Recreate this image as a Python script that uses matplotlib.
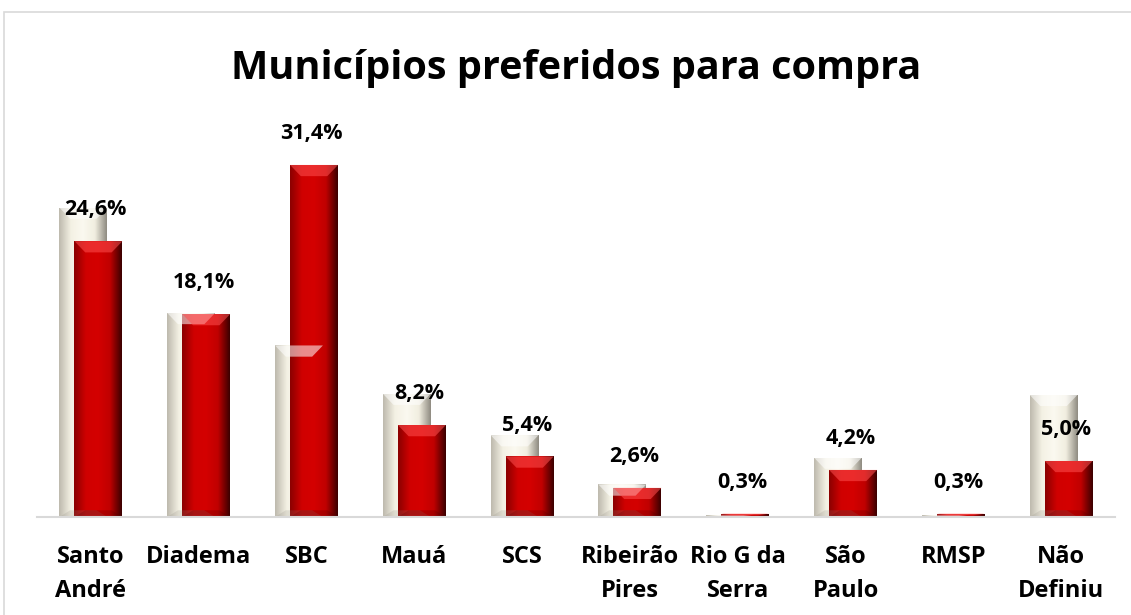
import matplotlib
matplotlib.use("Agg")
import matplotlib.pyplot as plt
import numpy as np
from matplotlib.patches import Rectangle, Polygon
from matplotlib.colors import LinearSegmentedColormap

# dados
municipios = ['Santo\nAndré', 'Diadema', 'SBC', 'Mauá', 'SCS', 'Ribeirão\nPires',
              'Rio G da\nSerra', 'São\nPaulo', 'RMSP', 'Não\nDefiniu']
anterior = [27.6, 18.2, 15.3, 11.0, 7.3, 2.9, 0.2, 5.3, 0.2, 10.9]
atual = [24.6, 18.1, 31.4, 8.2, 5.4, 2.6, 0.3, 4.2, 0.3, 5.0]
rotulos = ['24,6%', '18,1%', '31,4%', '8,2%', '5,4%', '2,6%', '0,3%', '4,2%', '0,3%', '5,0%']

plt.rcParams['font.family'] = ['Open Sans', 'DejaVu Sans']

fig = plt.figure(figsize=(11.31, 6.15), dpi=100)
fig.patches.append(Rectangle((4 / 1131, -0.1), 1.2, 1 - 12 / 615 + 0.1,
                             transform=fig.transFigure, fill=False,
                             edgecolor='#d9d9d9', linewidth=1.2))

ax = fig.add_axes([37 / 1131, 1 - 517 / 615, (1115 - 37) / 1131, 370 / 615])

creme = LinearSegmentedColormap.from_list('creme', ['#bdb9ad', '#f4f1e4', '#fbf9f0', '#f1eee0', '#8e8a80'])
vermelho = LinearSegmentedColormap.from_list('verm', ['#8a0000', '#d00000', '#d40000', '#c00000', '#3a0000'])
grad = np.linspace(0, 1, 256).reshape(1, -1)

x = np.arange(len(municipios))
w = 0.445
desl = 0.07


def barras_com_brilho(pos, vals, cmap, topo, base):
    barras = ax.bar(pos, vals, width=w, color='none', edgecolor='none', zorder=2)
    for b in barras:
        x0, y0 = b.get_x(), b.get_y()
        x1, y1 = x0 + b.get_width(), y0 + b.get_height()
        im = ax.imshow(grad, cmap=cmap, aspect='auto', extent=(x0, x1, y0, y1),
                       zorder=b.get_zorder(), interpolation='bicubic')
        im.set_clip_path(b)
        # bisel no topo e na base
        bh = min(1.0, b.get_height() * 0.45)
        ins = min(0.1, w * 0.25)
        ax.add_patch(Polygon([(x0, y1), (x1, y1), (x1 - ins, y1 - bh), (x0 + ins, y1 - bh)],
                             closed=True, facecolor=topo, edgecolor='none', alpha=0.55, zorder=2.1))
        ax.add_patch(Polygon([(x0, y0), (x1, y0), (x1 - ins, y0 + bh * 0.6), (x0 + ins, y0 + bh * 0.6)],
                             closed=True, facecolor=base, edgecolor='none', alpha=0.2, zorder=2.1))
    return barras


barras_com_brilho(x - desl, anterior, creme, '#ffffff', '#8e8a80')
b_atual = barras_com_brilho(x + desl, atual, vermelho, '#ff5050', '#400000')

for b, txt in zip(b_atual, rotulos):
    ax.annotate(txt, (b.get_x() + b.get_width() / 2, b.get_height()),
                xytext=(-2, 15), textcoords='offset points', ha='center', va='bottom',
                fontsize=15.5, fontweight='bold', color='black', zorder=5)

ax.set_xlim(-0.5, len(municipios) - 0.5)
ax.set_ylim(0, 33)
ax.set_xticks(x)
ax.set_xticklabels(municipios, fontsize=17, fontweight='bold', linespacing=1.55)
ax.tick_params(axis='x', length=0, pad=20)
ax.set_yticks([])
for s in ['top', 'right', 'left']:
    ax.spines[s].set_visible(False)
ax.spines['bottom'].set_color('#d9d9d9')
ax.spines['bottom'].set_linewidth(1.5)
ax.set_facecolor('none')

fig.text(576 / 1131, 1 - 79 / 615, 'Municípios preferidos para compra', ha='center',
         va='baseline', fontsize=28.5, fontweight='bold')

fig.savefig('out.png', dpi=100)
